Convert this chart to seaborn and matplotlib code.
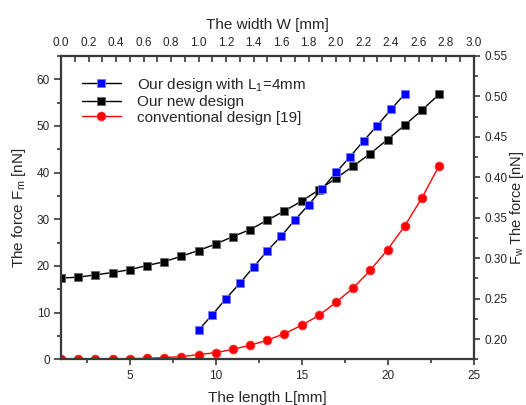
import matplotlib
matplotlib.use("Agg")
import matplotlib.pyplot as plt
import seaborn as sns
import pandas as pd
from matplotlib.ticker import MultipleLocator

# ---- data ----
length_L = list(range(1, 24))
new_design_Fm = [17.4, 17.6, 18.1, 18.6, 19.2, 20.1, 20.9, 22.1, 23.3, 24.7, 26.3, 27.8,
                 29.8, 31.8, 33.9, 36.3, 38.8, 41.4, 44.1, 47.1, 50.2, 53.4, 56.8]
conventional_Fm = [0.0, 0.05, 0.08, 0.1, 0.13, 0.2, 0.36, 0.57, 1.0, 1.43, 2.14, 3.0,
                   4.1, 5.5, 7.3, 9.4, 12.2, 15.3, 19.1, 23.5, 28.6, 34.6, 41.5]
width_W = [1.0, 1.1, 1.2, 1.3, 1.4, 1.5, 1.6, 1.7, 1.8, 1.9, 2.0, 2.1, 2.2, 2.3, 2.4, 2.5]
l1_design_Fw = [0.211, 0.230, 0.250, 0.269, 0.289, 0.309, 0.327, 0.347, 0.366, 0.386,
                0.406, 0.425, 0.445, 0.464, 0.484, 0.503]
labels = ["Our design with L$_{1}$=4mm", "Our new design", "conventional design [19]"]

sns.set_style("ticks")
plt.rcParams["font.family"] = ["Liberation Sans", "DejaVu Sans"]
plt.rcParams["mathtext.default"] = "regular"

fig = plt.figure(figsize=(5.26, 4.05), dpi=100)
ax = fig.add_axes([61/526, 1-359.3/405, (473.5-61)/526, (359.3-56)/405])
ax2 = ax.twinx()
ax3 = ax2.twiny()

spine_c = "#3a3a3a"

df_main = pd.DataFrame({"L": length_L, "new": new_design_Fm, "conv": conventional_Fm})
df_blue = pd.DataFrame({"W": width_W, "Fw": l1_design_Fw})

sns.lineplot(data=df_main, x="L", y="new", ax=ax, color="black", linewidth=1.0,
             marker="s", markersize=5.3, markerfacecolor="black",
             markeredgecolor="#666666", markeredgewidth=0.6)
sns.lineplot(data=df_main, x="L", y="conv", ax=ax, color="#ff0000", linewidth=1.0,
             marker="o", markersize=6.3, markerfacecolor="#ff0000",
             markeredgecolor="#ff3333", markeredgewidth=0.6)
sns.lineplot(data=df_blue, x="W", y="Fw", ax=ax3, color="black", linewidth=1.0,
             marker="s", markersize=5.3, markerfacecolor="#0000ff",
             markeredgecolor="#7777ff", markeredgewidth=0.6)

ax.set_xlim(1, 25)
ax.set_ylim(0, 65)
ax2.set_ylim(0.175, 0.55)
ax3.set_xlim(0, 3)

ax.xaxis.set_major_locator(MultipleLocator(5))
ax.xaxis.set_minor_locator(MultipleLocator(2.5))
ax.yaxis.set_major_locator(MultipleLocator(10))
ax.yaxis.set_minor_locator(MultipleLocator(5))
ax2.yaxis.set_major_locator(MultipleLocator(0.05))
ax2.yaxis.set_minor_locator(MultipleLocator(0.025))
ax3.xaxis.set_major_locator(MultipleLocator(0.2))
ax3.xaxis.set_minor_locator(MultipleLocator(0.1))
ax2.yaxis.set_major_formatter(matplotlib.ticker.FormatStrFormatter("%.2f"))
ax3.xaxis.set_major_formatter(matplotlib.ticker.FormatStrFormatter("%.1f"))

tick_fs = 8.5
ax.tick_params(axis="x", which="major", direction="out", length=4, width=1.2,
               color=spine_c, labelsize=tick_fs, pad=4)
ax.tick_params(axis="x", which="minor", direction="out", length=3, width=1.2, color=spine_c)
ax.tick_params(axis="y", which="major", direction="out", length=5, width=1.2,
               color=spine_c, labelsize=tick_fs, pad=3)
ax.tick_params(axis="y", which="minor", direction="out", length=3, width=1.2, color=spine_c)
ax2.tick_params(axis="y", which="major", direction="out", length=4, width=1.2,
                color=spine_c, labelsize=tick_fs, pad=4)
ax2.tick_params(axis="y", which="minor", direction="out", length=3, width=1.2, color=spine_c)
ax3.tick_params(axis="x", which="major", direction="in", length=4, width=1.2,
                color=spine_c, labelsize=tick_fs, pad=5)
ax3.tick_params(axis="x", which="minor", direction="in", length=4, width=1.2, color=spine_c)

for a in (ax, ax2, ax3):
    for s in a.spines.values():
        s.set_color(spine_c)
        s.set_linewidth(1.5)
        s.set_visible(True)

lab_fs = 11
ax.set_xlabel("The length L[mm]", fontsize=lab_fs, labelpad=6)
ax.set_ylabel("The force F$_{m}$ [nN]", fontsize=lab_fs, labelpad=6)
ax2.set_ylabel("F$_{w}$ The force [nN]", fontsize=10.5, labelpad=0)
ax3.set_xlabel("The width W [mm]", fontsize=lab_fs, labelpad=6)

handles = [ax3.get_lines()[0], ax.get_lines()[0], ax.get_lines()[1]]
leg = ax3.legend(handles, labels, loc="upper left", bbox_to_anchor=(0.035, 0.955),
                 frameon=False, fontsize=11, handlelength=2.6, handletextpad=1.0,
                 labelspacing=0.1, borderaxespad=0.0)

fig.savefig("out.png", dpi=100)
